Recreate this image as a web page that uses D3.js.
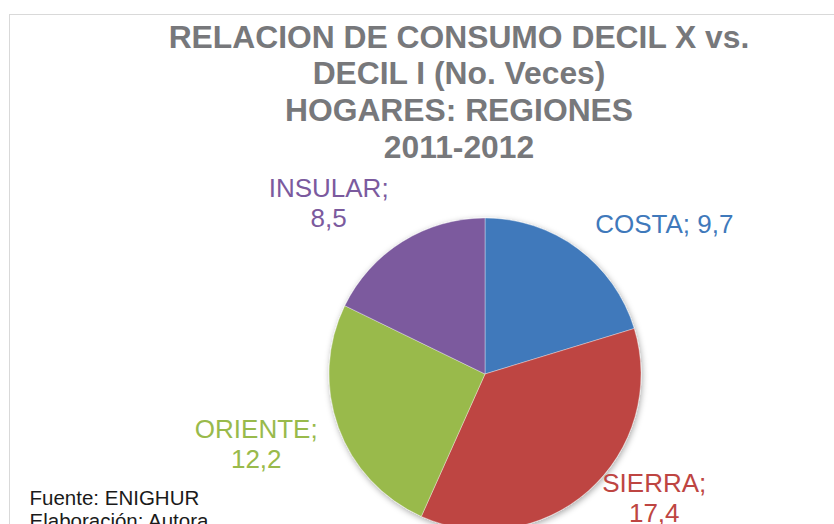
<!DOCTYPE html>
<html><head><meta charset="utf-8">
<script src="https://cdn.jsdelivr.net/npm/d3@7/dist/d3.min.js"></script>
<style>html,body{margin:0;padding:0;background:#fff;overflow:hidden}</style>
</head><body>
<svg id="c" width="834" height="524"></svg>
<script>
const categories = ["COSTA", "SIERRA", "ORIENTE", "INSULAR"];
const values = [9.7, 17.4, 12.2, 8.5];
const valueLabels = ["9,7", "17,4", "12,2", "8,5"];
const colors = ["#3F79BB", "#BE4542", "#99BA4B", "#7B5A9E"];
const titleLines = ["RELACION DE CONSUMO DECIL X vs.", "DECIL I (No. Veces)", "HOGARES: REGIONES", "2011-2012"];
const noteLines = ["Fuente: ENIGHUR", "Elaboración: Autora"];

const W = 834, H = 524;
const svg = d3.select("#c");
const defs = svg.append("defs");
const f = defs.append("filter").attr("id","sh").attr("x","-20%").attr("y","-20%").attr("width","140%").attr("height","140%");
f.append("feDropShadow").attr("dx",1).attr("dy",2).attr("stdDeviation",3).attr("flood-color","#000").attr("flood-opacity",0.35);

// chart frame (cropped)
svg.append("rect").attr("x",9.5).attr("y",14.5).attr("width",900).attr("height",600)
  .attr("fill","none").attr("stroke","#d9d9d9").attr("stroke-width",1);

// title
const title = svg.append("text").attr("text-anchor","middle")
  .attr("font-family","'Liberation Sans', Arial, sans-serif").attr("font-weight","bold")
  .attr("font-size",31.8).attr("fill","#77787B");
titleLines.forEach((t,i)=>title.append("tspan").attr("x",459).attr("y",47.5+i*36.8).text(t));

// pie
const cx = 485, cy = 374, r = 156;
const pie = d3.pie().sort(null).value(d=>d.v).startAngle(0).endAngle(2*Math.PI);
const data = categories.map((c,i)=>({c, v:values[i], lab:valueLabels[i], col:colors[i]}));
const arcs = pie(data);
const arc = d3.arc().innerRadius(0).outerRadius(r);
const g = svg.append("g").attr("transform",`translate(${cx},${cy})`);
g.append("g").attr("filter","url(#sh)").selectAll("path").data(arcs).join("path")
  .attr("d",arc).attr("fill",d=>d.data.col).attr("stroke","#fff").attr("stroke-width",0.6).attr("stroke-opacity",0.6);

// data labels (best-fit outside positions, expressed relative to the slice mid-angle)
const labelLayout = {
  COSTA:   {da: 13.5, dist: 234, lines: 1},
  SIERRA:  {da: -12.0, dist: 212, lines: 2},
  ORIENTE: {da: 2.3,  dist: 239, lines: 2},
  INSULAR: {da: -10.7, dist: 229, lines: 2}
};
const fs = 26, lh = 30.2, cap = fs*0.716;
arcs.forEach(a=>{
  const L = labelLayout[a.data.c];
  const mid = (a.startAngle + a.endAngle)/2 + L.da*Math.PI/180;
  const x = cx + L.dist*Math.sin(mid), y = cy - L.dist*Math.cos(mid);
  const t = svg.append("text").attr("text-anchor","middle")
    .attr("font-family","'Liberation Sans', Arial, sans-serif").attr("font-size",fs).attr("fill",a.data.col);
  if (L.lines === 1) {
    t.append("tspan").attr("x",x).attr("y",y+cap/2).text(a.data.c+"; "+a.data.lab);
  } else {
    const top = y - (cap+lh)/2 + cap - 3;
    t.append("tspan").attr("x",x-1).attr("y",top).text(a.data.c+";");
    t.append("tspan").attr("x",x-1).attr("y",top+lh).text(a.data.lab);
  }
});

// note
const note = svg.append("text").attr("font-family","'Liberation Sans', Arial, sans-serif")
  .attr("font-size",20.5).attr("fill","#1a1a1a");
noteLines.forEach((t,i)=>note.append("tspan").attr("x",29.5).attr("y",504.5+i*23).text(t));
</script>
</body></html>
